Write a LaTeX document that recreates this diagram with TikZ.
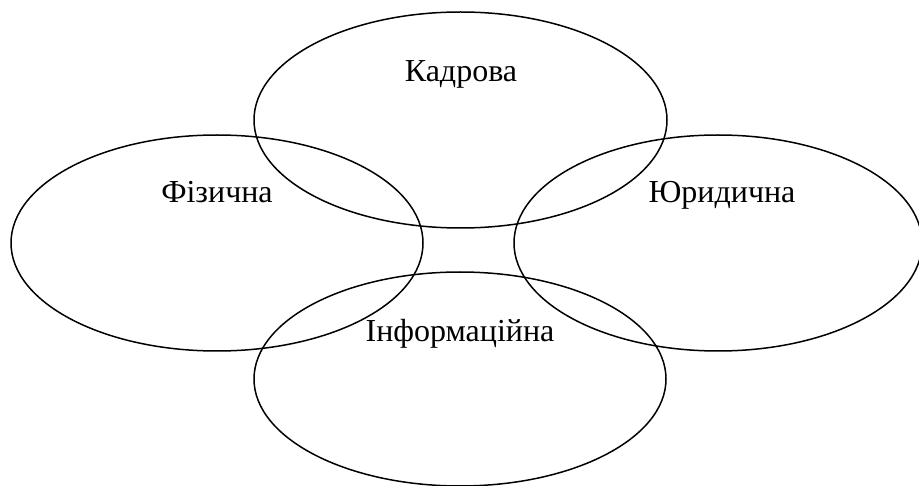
\documentclass[tikz,border=0pt]{standalone}
\usepackage{fontspec}
\setmainfont{Liberation Serif}
\usetikzlibrary{calc}

\begin{document}
\begin{tikzpicture}[x=1pt, y=-1pt, line cap=round, line join=round]
    \tikzset{kolo/.style={draw=black, line width=1.5pt},
             nazva/.style={anchor=base, font=\fontsize{32}{38}\selectfont, inner sep=0pt}}
    \useasboundingbox (0,0) rectangle (919,486);

    % Чотири еліпси
    \draw[kolo] (460.5,120) ellipse (206.5 and 108);
    \draw[kolo] (217,243) ellipse (206 and 108);
    \draw[kolo] (718,243) ellipse (204 and 108);
    \draw[kolo] (460,379) ellipse (206 and 107);

    % Підписи
    \node[nazva] (kadr) at (461,82) {Кадрова};
    \node[nazva] (fiz) at (217,203) {Фізична};
    \node[nazva] (yur) at (722,203) {Юридична};
    \node[nazva] (inf) at (460,342) {Інформаційна};
\end{tikzpicture}
\end{document}
